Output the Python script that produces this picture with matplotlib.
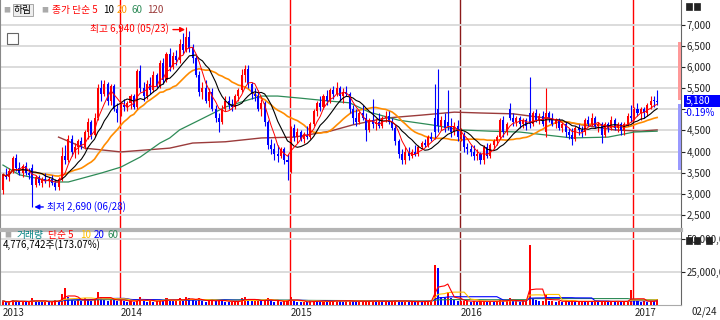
import numpy as np
import pandas as pd
import matplotlib
matplotlib.use('Agg')
import matplotlib.pyplot as plt
from matplotlib.patches import Rectangle
import matplotlib.transforms as mtransforms

plt.rcParams['font.family'] = ['Noto Sans CJK KR', 'DejaVu Sans']

# 주봉 데이터 (2013-04-26 ~ 2017-02-24)
dates = pd.date_range('2013-04-26', periods=201, freq='W-FRI')

opens = [3100, 3450, 3400, 3550, 3850, 3600, 3500, 3650, 3500, 3600,
         3200, 3400, 3250, 3350, 3300, 3350, 3250, 3150, 3350, 3900,
         3800, 4300, 4000, 4100, 4250, 4100, 4450, 4700, 4400, 4800,
         5500, 5350, 5600, 5200, 5550, 5000, 4900, 5100, 5050, 5150,
         5300, 5050, 5900, 5500, 5300, 5600, 5450, 5800, 5550, 6100,
         5700, 6300, 6000, 6250, 6150, 6550, 6400, 6700, 6450, 6200,
         5800, 5400, 5500, 5200, 5400, 5000, 4800, 4700, 5000, 5200,
         5100, 5050, 5300, 5450, 5800, 5950, 5600, 5350, 5300, 5000,
         5150, 4700, 4150, 4050, 3950, 3900, 4050, 3800, 3750, 4550,
         4350, 4450, 4300, 4400, 4350, 4650, 4950, 5150, 5050, 5300,
         5200, 5450, 5350, 5500, 5300, 5400, 5350, 5000, 4800, 4700,
         4900, 4800, 4500, 4750, 4650, 4700, 4600, 4800, 4850, 4700,
         4550, 4250, 3950, 3800, 4000, 3900, 4000, 3950, 4100, 4200,
         4150, 4350, 4800, 5000, 4600, 4750, 4700, 4600, 4450, 4600,
         4350, 4400, 4100, 4050, 4000, 3900, 3950, 3800, 4100, 3900,
         4150, 4250, 4350, 4750, 4450, 5000, 4800, 4700, 4800, 4650,
         4750, 4900, 4650, 4900, 4750, 4850, 4450, 4900, 4800, 4650,
         4750, 4550, 4650, 4450, 4400, 4300, 4550, 4500, 4450, 4750,
         4650, 4800, 4600, 4650, 4400, 4650, 4550, 4750, 4550, 4650,
         4500, 4650, 4850, 4800, 5000, 4900, 5000, 4900, 5100, 5200,
         5190]
highs = [3500, 3600, 3600, 3900, 3950, 3750, 3700, 3750, 3600, 3700,
         3450, 3450, 3400, 3500, 3400, 3450, 3350, 3400, 4100, 4150,
         4400, 4400, 4200, 4300, 4350, 4500, 4800, 4750, 4900, 5600,
         5700, 5700, 5650, 5600, 5600, 5150, 5200, 5250, 5200, 5350,
         5350, 5950, 6050, 5650, 5700, 5750, 5900, 5850, 6150, 6200,
         6350, 6450, 6350, 6400, 6650, 6800, 6940, 6850, 6550, 6300,
         5900, 5650, 5700, 5500, 5500, 5100, 4900, 5100, 5300, 5300,
         5250, 5350, 5500, 5950, 6050, 6050, 5650, 5500, 5450, 5250,
         5200, 4750, 4300, 4200, 4150, 4100, 4100, 3950, 4600, 4650,
         4550, 4500, 4450, 4600, 4700, 5000, 5200, 5300, 5350, 5450,
         5500, 5550, 5650, 5550, 5500, 5550, 5400, 5100, 5000, 4950,
         5100, 4900, 4800, 5250, 4800, 4900, 4850, 4950, 4950, 4800,
         4650, 4300, 4050, 4100, 4100, 4050, 4150, 4150, 4250, 4300,
         4400, 4450, 5600, 5950, 4850, 4900, 5450, 4800, 4700, 4750,
         4550, 4450, 4200, 4150, 4150, 4050, 4000, 4150, 4200, 4200,
         4300, 4400, 4800, 4850, 4700, 5150, 4900, 4850, 4850, 4800,
         4800, 5750, 4950, 5000, 4900, 4950, 5500, 4950, 4900, 4800,
         4800, 4700, 4700, 4550, 4550, 4600, 4650, 4600, 4800, 4850,
         4900, 4850, 4700, 4700, 4700, 4700, 4850, 4800, 4700, 4700,
         4700, 4900, 5100, 5050, 5150, 5050, 5050, 5150, 5300, 5300,
         5450]
lows = [3000, 3350, 3300, 3500, 3550, 3450, 3400, 3450, 3350, 2690,
        3150, 3200, 3150, 3250, 3150, 3200, 3100, 3100, 3300, 3700,
        3750, 3900, 3850, 3950, 4050, 4050, 4300, 4300, 4350, 4750,
        5200, 5300, 5100, 5100, 4950, 4700, 4850, 4950, 4950, 5000,
        5000, 5000, 5400, 5200, 5250, 5350, 5400, 5500, 5500, 5600,
        5650, 5900, 5950, 6050, 6100, 6300, 6350, 6350, 6100, 5750,
        5300, 5250, 5150, 5050, 4950, 4700, 4450, 4650, 4950, 5000,
        4950, 5000, 5200, 5400, 5650, 5500, 5250, 5200, 4950, 4850,
        4600, 4050, 3950, 3800, 3750, 3850, 3700, 3330, 3500, 4250,
        4200, 4250, 4200, 4300, 4300, 4600, 4850, 4950, 5000, 5100,
        5150, 5250, 5300, 5200, 5150, 5300, 4900, 4650, 4600, 4650,
        4750, 4250, 4450, 4550, 4500, 4550, 4550, 4700, 4650, 4500,
        4150, 3850, 3700, 3700, 3800, 3850, 3900, 3900, 4050, 4100,
        4100, 4250, 4300, 4450, 4500, 4450, 4500, 4350, 4400, 4250,
        4250, 4000, 3950, 3900, 3800, 3800, 3700, 3700, 3850, 3850,
        4050, 4150, 4300, 4350, 4400, 4750, 4600, 4600, 4550, 4550,
        4500, 4550, 4600, 4700, 4650, 4600, 4350, 4700, 4600, 4550,
        4500, 4450, 4350, 4300, 4150, 4250, 4400, 4350, 4400, 4600,
        4600, 4550, 4450, 4200, 4350, 4450, 4500, 4500, 4450, 4400,
        4400, 4600, 4700, 4750, 4850, 4750, 4800, 4850, 5000, 5050,
        5100]
closes = [3450, 3400, 3550, 3850, 3600, 3500, 3650, 3500, 3450, 3200,
          3400, 3250, 3350, 3300, 3350, 3250, 3150, 3350, 3900, 3800,
          4300, 4000, 4100, 4250, 4100, 4450, 4700, 4400, 4800, 5500,
          5350, 5600, 5200, 5550, 5000, 4900, 5100, 5050, 5150, 5300,
          5050, 5900, 5500, 5300, 5600, 5450, 5800, 5550, 6100, 5700,
          6300, 6000, 6250, 6150, 6550, 6400, 6700, 6450, 6200, 5800,
          5400, 5500, 5200, 5400, 5000, 4800, 4700, 5000, 5200, 5100,
          5050, 5300, 5450, 5800, 5950, 5600, 5350, 5300, 5000, 5150,
          4700, 4150, 4050, 3950, 3900, 4050, 3800, 3750, 4550, 4350,
          4450, 4300, 4400, 4350, 4650, 4950, 5150, 5050, 5300, 5200,
          5450, 5350, 5500, 5300, 5400, 5350, 5000, 4800, 4700, 4900,
          4800, 4500, 4750, 4650, 4700, 4600, 4800, 4850, 4700, 4550,
          4250, 3950, 3800, 4000, 3900, 4000, 3950, 4100, 4200, 4150,
          4350, 4300, 4450, 4600, 4750, 4550, 4600, 4450, 4600, 4350,
          4400, 4100, 4050, 4000, 3900, 3950, 3800, 4100, 3900, 4150,
          4250, 4350, 4750, 4450, 4650, 4800, 4700, 4800, 4650, 4750,
          4600, 4650, 4900, 4750, 4850, 4650, 4900, 4800, 4650, 4750,
          4550, 4650, 4450, 4400, 4300, 4550, 4500, 4450, 4750, 4650,
          4800, 4600, 4650, 4400, 4650, 4550, 4750, 4550, 4650, 4500,
          4650, 4850, 4800, 5000, 4900, 5000, 4900, 5100, 5200, 5190,
          5180]
# 거래량 (백만 주)
volumes = [3, 2, 2.5, 4, 3, 2, 2.5, 2, 3, 5,
           3, 2.5, 2, 3, 2, 2.5, 4, 3, 8, 13,
           6, 4, 3, 4, 3, 5, 4, 3, 5, 10,
           6, 4, 3, 5, 4, 3, 4, 3, 2.5, 3,
           2.5, 4, 6, 3, 2.5, 3, 2.5, 3, 4, 3,
           5, 4, 3, 4, 5, 3, 6, 5, 4, 3,
           5, 3, 2.5, 3, 4, 3, 4, 3, 2.5, 2,
           2.5, 3, 3, 5, 6, 4, 3, 3, 4, 3,
           4, 5, 3, 2.5, 3, 2.5, 3, 4, 6, 3,
           2.5, 2, 2.5, 2, 3, 3.5, 3, 2.5, 3, 2.5,
           3, 3, 4, 3, 2.5, 3, 3.5, 3, 2.5, 2.5,
           3, 3, 3, 3, 2.5, 3, 2.5, 3, 2.5, 3,
           3.5, 3, 2.5, 3, 2.5, 2.5, 2, 3, 2.5, 3,
           3, 3, 30, 28, 6, 5, 10, 5, 4, 3,
           3, 3, 3, 2.5, 3, 2.5, 3, 3, 2.5, 3,
           2.5, 3, 4, 3, 3, 5, 3, 3, 2.5, 3,
           3, 45, 5, 4, 3, 3, 8, 3, 3, 2.5,
           3, 2.5, 3, 2.5, 3, 2.5, 2.5, 3, 2.5, 3,
           2.5, 3, 2.5, 2.5, 3, 2.5, 3, 2.5, 3, 2.5,
           2.5, 3, 11, 4, 3, 2.5, 3, 2.5, 3, 2.76,
           4.776742]

# 60/120 이동평균 (차트에서 읽은 값, 이전 구간 데이터 포함)
ma60_idx = [0, 5, 16, 20, 30, 36, 42, 48, 51, 54, 60, 68, 75, 79, 84, 91,
            100, 106, 112, 121, 131, 140, 149, 158, 166, 174, 185, 193, 200]
ma60_val = [3680, 3450, 3280, 3280, 3490, 3630, 3870, 4200, 4320, 4510, 4740,
            5050, 5220, 5310, 5310, 5260, 5190, 5150, 4930, 4740, 4630, 4510,
            4480, 4460, 4390, 4320, 4340, 4460, 4480]
ma120_idx = [17, 25, 36, 51, 58, 68, 79, 89, 100, 107, 117, 128, 138, 146,
             156, 166, 177, 187, 195, 200]
ma120_val = [4340, 4080, 3990, 4080, 4200, 4230, 4320, 4340, 4480, 4630, 4790,
             4860, 4930, 4910, 4890, 4790, 4630, 4510, 4480, 4510]

price_ticks = [2500, 3000, 3500, 4000, 4500, 5000, 5500, 6000, 6500, 7000]
vol_ticks = [25, 50]

RED = '#FF0000'
BLUE = '#0000FF'


def px(x, y):
    return x / 720, 1 - y / 320


fig = plt.figure(figsize=(7.2, 3.2), dpi=100)
ax = fig.add_axes([0, 1 - 228 / 320, 681 / 720, 228 / 320])
axv = fig.add_axes([0, 1 - 305 / 320, 681 / 720, 73 / 320])

n = len(closes)
x = np.arange(n)
o = np.array(opens)
h = np.array(highs)
l = np.array(lows)
c = np.array(closes)
v = np.array(volumes)

up = c >= o
colors = np.where(up, RED, BLUE)

# 이동평균
cs = pd.Series(c)
ma5 = cs.rolling(5, min_periods=1).mean()
ma10 = cs.rolling(10, min_periods=1).mean()
ma20 = cs.rolling(20, min_periods=1).mean()

ax.plot(ma120_idx, ma120_val, color='#9B3B3B', lw=1.0, zorder=2)
ax.plot(ma60_idx, ma60_val, color='#2E8B57', lw=0.9, zorder=2)
ax.plot(x, ma20, color='#FF8C00', lw=1.2, zorder=2)

ax.vlines(x, l, h, colors=colors, lw=0.8, zorder=3)
body = np.maximum(np.abs(c - o), 15)
ax.bar(x, body, bottom=np.minimum(o, c), width=0.62, color=colors, lw=0, zorder=3)

ax.plot(x, ma10, color='black', lw=0.8, zorder=4)
ax.plot(x, ma5, color=RED, lw=0.7, zorder=4)

# 연도 구분선
year_idx = [0] + [i for i in range(1, n) if dates[i].year != dates[i - 1].year]
for i in year_idx[1:]:
    col = '#8B1A1A' if dates[i].year == 2016 else RED
    for a in (ax, axv):
        a.axvline(i - 0.3, color=col, lw=1.0, zorder=1)

xlim = (-0.9, 207.3)
ax.set_xlim(xlim)
ax.set_ylim(2193, 7579)
ax.set_yticks(price_ticks)
# 5,000 눈금 글자는 현재가 표시에 가려짐
ax.set_yticklabels(['' if t == 5000 else f'{t:,}' for t in price_ticks])
ax.yaxis.tick_right()
ax.tick_params(axis='y', length=3, width=0.8, pad=1, labelsize=7, colors='#222222')
ax.set_xticks([])
ax.grid(axis='y', color='#D9D9D9', lw=1.3, zorder=0)
for s in ('top', 'bottom'):
    ax.spines[s].set_visible(False)
ax.spines['left'].set_color('#888888')
ax.spines['right'].set_color('#666666')

# 최고/최저 표시
pk = int(np.argmax(h))
ax.annotate(f'최고 {h[pk]:,} ({dates[pk]:%m/%d})', xy=(pk - 0.3, h[pk] - 60),
            xytext=(pk - 5.3, h[pk] - 60), ha='right', va='center', fontsize=7,
            color=RED, arrowprops=dict(arrowstyle='-|>', color=RED, lw=1.0,
                                       mutation_scale=7, shrinkA=1, shrinkB=0))
lo = int(np.argmin(l))
ax.annotate(f'최저 {l[lo]:,} ({dates[lo]:%m/%d})', xy=(lo + 0.6, l[lo]),
            xytext=(lo + 4.6, l[lo]), ha='left', va='center', fontsize=7,
            color=BLUE, arrowprops=dict(arrowstyle='-|>', color=BLUE, lw=1.0,
                                        mutation_scale=7, shrinkA=1, shrinkB=0))

# 우측 가격대 표시
trans = mtransforms.blended_transform_factory(ax.transAxes, ax.transData)
ax.add_patch(Rectangle((0.996, 5220), 0.004, 1370, transform=trans,
                       color='#FF9999', lw=0, clip_on=False, zorder=5))
ax.add_patch(Rectangle((0.996, 3560), 0.004, 1560, transform=trans,
                       color='#9999FF', lw=0, clip_on=False, zorder=5))

# 거래량
vc = np.where(np.r_[True, v[1:] >= v[:-1]], RED, BLUE)
axv.bar(x, v, width=0.62, color=vc, lw=0, zorder=3)
vs = pd.Series(v)
axv.plot(x, vs.rolling(60, min_periods=1).mean(), color='#2E8B57', lw=0.8, zorder=4)
axv.plot(x, vs.rolling(20, min_periods=1).mean(), color=BLUE, lw=0.8, zorder=4)
axv.plot(x, vs.rolling(10, min_periods=1).mean(), color='#FFC000', lw=0.8, zorder=4)
axv.plot(x, vs.rolling(5, min_periods=1).mean(), color=RED, lw=0.8, zorder=4)
axv.set_xlim(xlim)
axv.set_ylim(0, 55)
axv.set_yticks(vol_ticks)
axv.set_yticklabels([f'{int(t * 1e6):,}' for t in vol_ticks])
axv.yaxis.tick_right()
axv.tick_params(axis='y', length=3, width=0.8, pad=1, labelsize=7, colors='#222222')
axv.grid(axis='y', color='#D9D9D9', lw=1.3, zorder=0)
axv.set_xticks(year_idx)
axv.set_xticklabels([str(dates[i].year) for i in year_idx], ha='left')
axv.tick_params(axis='x', length=0, pad=2, labelsize=7, colors='#222222')
axv.spines['top'].set_visible(False)
axv.spines['left'].set_color('#888888')
axv.spines['right'].set_color('#666666')
axv.spines['bottom'].set_color('#AAAAAA')

# 패널 구분선
fig.add_artist(plt.Line2D([0, 681 / 720], [1 - 230 / 320] * 2, color='#B4B4B4', lw=3))

# 범례
fs = 7
fig.text(*px(3, 10), '■', fontsize=5, color='#AAAAAA', va='center')
fig.text(*px(14, 10), '하림', fontsize=fs, va='center',
         bbox=dict(boxstyle='square,pad=0.15', fc='#EEEEEE', ec='#999999', lw=0.6))
fig.text(*px(41, 10), '■', fontsize=5, color='#AAAAAA', va='center')
fig.text(*px(52, 10), '종가 단순 5', fontsize=fs, color=RED, va='center')
fig.text(*px(103, 10), '10', fontsize=fs, color='black', va='center')
fig.text(*px(117, 10), '20', fontsize=fs, color='#FF9900', va='center')
fig.text(*px(132, 10), '60', fontsize=fs, color='#2E8B57', va='center')
fig.text(*px(147, 10), '120', fontsize=fs, color='#9B3B3B', va='center')
fig.add_artist(Rectangle(px(7, 44), 11 / 720, 11 / 320, fill=False, ec='#666666', lw=0.8))

fig.text(*px(4, 235), '■', fontsize=5, color='#AAAAAA', va='center')
fig.text(*px(17, 235), '거래량', fontsize=fs, color='#008080', va='center')
fig.text(*px(48, 235), '단순 5', fontsize=fs, color=RED, va='center')
fig.text(*px(80, 235), '10', fontsize=fs, color='#FFC000', va='center')
fig.text(*px(94, 235), '20', fontsize=fs, color=BLUE, va='center')
fig.text(*px(108, 235), '60', fontsize=fs, color='#2E8B57', va='center')
fig.text(*px(3, 245), f'{int(round(v[-1] * 1e6)):,}주({v[-1] / v[-2] * 100:.2f}%)',
         fontsize=fs, color='black', va='center')

# 우측 상단 아이콘
for xi in (686, 694):
    fig.add_artist(Rectangle(px(xi, 10), 6 / 720, 7 / 320, fc='#222222', ec='#222222', lw=0.5))
for xi in (686, 694, 706):
    fig.add_artist(Rectangle(px(xi, 244), 6 / 720, 7 / 320, fc='#222222', ec='#222222',
                             lw=0.5, zorder=10))

# 현재가
chg = (c[-1] - c[-2]) / c[-2] * 100
fig.add_artist(Rectangle(px(684, 107), 36 / 720, 12 / 320, fc=BLUE, ec=BLUE, lw=0))
fig.text(*px(686, 101), f'{c[-1]:,}', fontsize=fs, color='white', va='center')
fig.text(*px(684, 113), f'{chg:.2f}%', fontsize=fs, color=BLUE, va='center')
fig.text(*px(692, 312), f'{dates[-1]:%m/%d}', fontsize=fs, color='#222222', va='center')

fig.savefig('out.png', dpi=100, facecolor='white')
